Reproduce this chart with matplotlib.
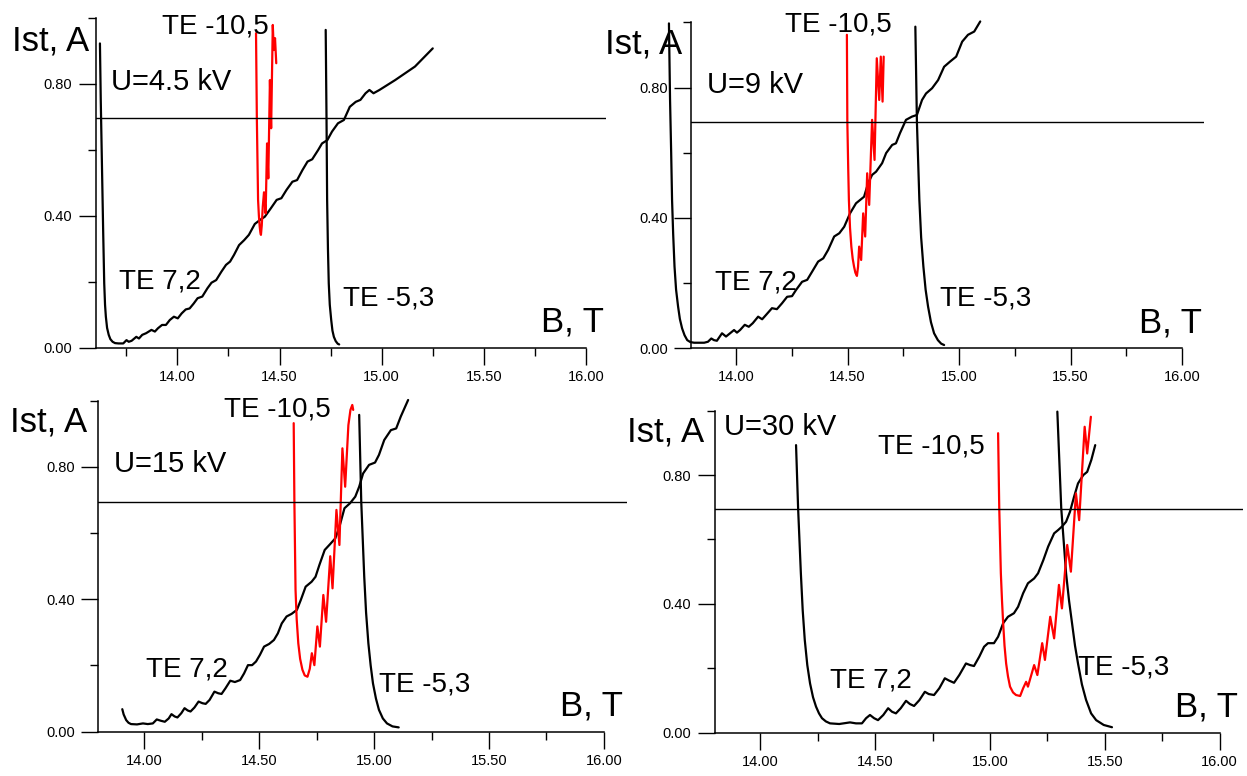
import matplotlib
matplotlib.use('Agg')
import matplotlib.pyplot as plt
from matplotlib.ticker import MultipleLocator, FormatStrFormatter

plt.rcParams['font.family'] = ['Liberation Sans', 'DejaVu Sans']

# ---- panel 1 : U=4.5 kV ----
p1_te72_b = [13.621, 13.625, 13.631, 13.637, 13.642, 13.646, 13.650, 13.656, 13.664, 13.672,
             13.683, 13.695, 13.712, 13.735,
             13.751, 13.762, 13.776, 13.799, 13.812, 13.828, 13.847, 13.873, 13.890, 13.905,
             13.925, 13.944, 13.963, 13.983, 14.002, 14.021, 14.041, 14.060, 14.080, 14.099,
             14.122, 14.147, 14.167, 14.190, 14.215, 14.238, 14.258, 14.277, 14.302, 14.327,
             14.350, 14.379, 14.404, 14.428, 14.457, 14.486, 14.509, 14.534, 14.563, 14.586,
             14.612, 14.637, 14.660, 14.689, 14.708, 14.734, 14.757, 14.786, 14.815, 14.844,
             14.873, 14.896, 14.921, 14.940, 14.960, 14.989, 15.066, 15.163, 15.250]
p1_te72_i = [0.922, 0.751, 0.549, 0.347, 0.195, 0.130, 0.094, 0.060, 0.039, 0.026,
             0.018, 0.014, 0.013, 0.013,
             0.023, 0.018, 0.021, 0.033, 0.028, 0.039, 0.044, 0.054, 0.049, 0.059,
             0.069, 0.069, 0.084, 0.094, 0.089, 0.104, 0.116, 0.119, 0.134, 0.150,
             0.155, 0.180, 0.197, 0.205, 0.230, 0.251, 0.261, 0.281, 0.311, 0.326,
             0.342, 0.375, 0.387, 0.397, 0.422, 0.448, 0.453, 0.478, 0.503, 0.508,
             0.538, 0.564, 0.571, 0.599, 0.619, 0.629, 0.655, 0.680, 0.690, 0.730,
             0.745, 0.751, 0.771, 0.781, 0.771, 0.781, 0.811, 0.852, 0.907]
p1_te105_b = [14.385, 14.389, 14.395, 14.399, 14.403, 14.406, 14.409, 14.413, 14.418, 14.424,
              14.432, 14.439, 14.445, 14.453, 14.459, 14.467, 14.472, 14.478, 14.484]
p1_te105_i = [0.953, 0.695, 0.448, 0.400, 0.367, 0.350, 0.342, 0.370, 0.427, 0.471,
              0.407, 0.619, 0.513, 0.811, 0.665, 0.978, 0.902, 0.938, 0.862]
p1_te53_b = [14.726, 14.730, 14.733, 14.737, 14.741, 14.746, 14.753, 14.759, 14.766, 14.775,
             14.785, 14.792]
p1_te53_i = [0.963, 0.695, 0.448, 0.300, 0.195, 0.130, 0.084, 0.052, 0.033, 0.020,
             0.012, 0.010]

# ---- panel 2 : U=9 kV ----
p2_te72_b = [13.699, 13.704, 13.709, 13.713, 13.718, 13.724, 13.731, 13.740, 13.748, 13.758,
             13.769, 13.781, 13.795, 13.812, 13.857, 13.874,
             13.889, 13.901, 13.914, 13.937, 13.955, 13.973, 13.991, 14.004, 14.018, 14.039,
             14.057, 14.075, 14.099, 14.117, 14.134, 14.161, 14.183, 14.206, 14.229, 14.251,
             14.269, 14.296, 14.319, 14.341, 14.368, 14.391, 14.413, 14.440, 14.463, 14.485,
             14.511, 14.538, 14.556, 14.574, 14.592, 14.610, 14.628, 14.655, 14.673, 14.700,
             14.717, 14.735, 14.762, 14.789, 14.811, 14.834, 14.852, 14.879, 14.906, 14.933,
             14.960, 14.987, 15.014, 15.040, 15.068, 15.095]
p2_te72_i = [0.997, 0.762, 0.600, 0.455, 0.350, 0.251, 0.180, 0.128, 0.090, 0.061,
             0.040, 0.025, 0.019, 0.017, 0.017, 0.020,
             0.030, 0.025, 0.023, 0.046, 0.036, 0.046, 0.056, 0.048, 0.056, 0.072,
             0.066, 0.077, 0.097, 0.089, 0.102, 0.123, 0.120, 0.138, 0.158, 0.160,
             0.179, 0.204, 0.210, 0.235, 0.266, 0.276, 0.302, 0.343, 0.353, 0.373,
             0.414, 0.445, 0.455, 0.465, 0.506, 0.532, 0.542, 0.568, 0.599, 0.624,
             0.629, 0.660, 0.701, 0.711, 0.716, 0.762, 0.782, 0.798, 0.823, 0.864,
             0.880, 0.895, 0.941, 0.962, 0.972, 1.003]
p2_te105_b = [14.497, 14.499, 14.503, 14.506, 14.511, 14.517, 14.523, 14.529, 14.535, 14.542,
              14.547, 14.552, 14.561, 14.570, 14.579,
              14.588, 14.597, 14.610, 14.621, 14.631, 14.642, 14.649, 14.657, 14.662]
p2_te105_i = [0.962, 0.695, 0.550, 0.455, 0.370, 0.312, 0.275, 0.251, 0.232, 0.222,
              0.250, 0.312, 0.271, 0.414, 0.343,
              0.537, 0.440, 0.701, 0.578, 0.890, 0.762, 0.895, 0.757, 0.895]
p2_te53_b = [14.804, 14.811, 14.822, 14.830, 14.840, 14.850, 14.861, 14.874, 14.888, 14.905,
             14.920, 14.933]
p2_te53_i = [0.987, 0.695, 0.455, 0.340, 0.251, 0.180, 0.128, 0.080, 0.046, 0.025,
             0.014, 0.010]

# ---- panel 3 : U=15 kV ----
p3_te72_b = [13.904, 13.910, 13.921, 13.931, 13.942, 13.968, 13.994, 14.015, 14.037, 14.054,
             14.072, 14.089,
             14.106, 14.118, 14.132, 14.144, 14.161, 14.175, 14.189, 14.201, 14.218, 14.236,
             14.253, 14.267, 14.284, 14.305, 14.322, 14.336, 14.353, 14.374, 14.394, 14.417,
             14.434, 14.451, 14.469, 14.486, 14.503, 14.521, 14.543, 14.564, 14.581, 14.598,
             14.619, 14.641, 14.664, 14.681, 14.702, 14.728, 14.745, 14.762, 14.785, 14.809,
             14.831, 14.849, 14.871, 14.895, 14.918, 14.935, 14.952, 14.978, 15.004, 15.021,
             15.044, 15.073, 15.096, 15.116, 15.148]
p3_te72_i = [0.068, 0.052, 0.035, 0.027, 0.023, 0.022, 0.025, 0.023, 0.025, 0.037,
             0.033, 0.030,
             0.040, 0.053, 0.046, 0.043, 0.056, 0.071, 0.064, 0.061, 0.073, 0.091,
             0.086, 0.084, 0.096, 0.121, 0.116, 0.114, 0.131, 0.154, 0.150, 0.156,
             0.176, 0.201, 0.201, 0.212, 0.232, 0.257, 0.265, 0.277, 0.297, 0.327,
             0.348, 0.356, 0.368, 0.398, 0.438, 0.453, 0.468, 0.504, 0.549, 0.567,
             0.584, 0.619, 0.675, 0.690, 0.710, 0.740, 0.780, 0.806, 0.813, 0.836,
             0.881, 0.911, 0.916, 0.952, 1.002]
p3_te105_b = [14.650, 14.653, 14.658, 14.663, 14.670, 14.678, 14.688, 14.698, 14.710, 14.720,
              14.729, 14.740, 14.753, 14.764,
              14.779, 14.791, 14.809, 14.819, 14.836, 14.849, 14.862, 14.874, 14.888, 14.897,
              14.905, 14.909]
p3_te105_i = [0.932, 0.695, 0.429, 0.340, 0.267, 0.220, 0.187, 0.170, 0.166, 0.190,
              0.237, 0.201, 0.318, 0.257,
              0.413, 0.332, 0.530, 0.433, 0.670, 0.564, 0.856, 0.740, 0.926, 0.972,
              0.987, 0.972]
p3_te53_b = [14.935, 14.944, 14.957, 14.965, 14.975, 14.985, 14.995, 15.008, 15.021, 15.038,
             15.056, 15.080, 15.107]
p3_te53_i = [0.957, 0.695, 0.468, 0.360, 0.267, 0.200, 0.146, 0.100, 0.066, 0.040,
             0.025, 0.016, 0.013]

# ---- panel 4 : U=30 kV ----
p4_te72_b = [14.155, 14.164, 14.176, 14.184, 14.193, 14.204, 14.216, 14.229, 14.242, 14.255,
             14.268, 14.285, 14.303, 14.343, 14.390,
             14.416, 14.442, 14.460, 14.477, 14.495, 14.512, 14.535, 14.556, 14.573, 14.590,
             14.611, 14.634, 14.651, 14.669, 14.692, 14.716, 14.733, 14.756, 14.779, 14.803,
             14.821, 14.843, 14.866, 14.895, 14.913, 14.930, 14.953, 14.974, 14.991, 15.017,
             15.035, 15.057, 15.078, 15.104, 15.122, 15.144, 15.165, 15.192, 15.209, 15.232,
             15.253, 15.279, 15.296, 15.313, 15.331, 15.348, 15.366, 15.383, 15.406, 15.423,
             15.441, 15.458]
p4_te72_i = [0.893, 0.697, 0.495, 0.380, 0.288, 0.210, 0.153, 0.110, 0.081, 0.060,
             0.045, 0.035, 0.029, 0.027, 0.032,
             0.029, 0.029, 0.045, 0.055, 0.045, 0.039, 0.055, 0.076, 0.065, 0.060,
             0.076, 0.099, 0.089, 0.083, 0.101, 0.127, 0.120, 0.117, 0.138, 0.169,
             0.162, 0.155, 0.179, 0.215, 0.210, 0.207, 0.236, 0.267, 0.278, 0.278,
             0.298, 0.340, 0.360, 0.371, 0.391, 0.433, 0.464, 0.479, 0.495, 0.536,
             0.578, 0.619, 0.629, 0.640, 0.655, 0.686, 0.733, 0.774, 0.800, 0.810,
             0.847, 0.893]
p4_te105_b = [15.035, 15.040, 15.047, 15.052, 15.057, 15.063, 15.070, 15.078, 15.087, 15.100,
              15.113, 15.131, 15.144, 15.157,
              15.165, 15.192, 15.206, 15.227, 15.239, 15.262, 15.279, 15.300, 15.313, 15.336,
              15.352, 15.374, 15.388, 15.412, 15.423, 15.439]
p4_te105_i = [0.930, 0.697, 0.495, 0.410, 0.340, 0.270, 0.215, 0.175, 0.143, 0.125,
              0.117, 0.114, 0.138, 0.158,
              0.143, 0.210, 0.179, 0.278, 0.226, 0.360, 0.293, 0.459, 0.386, 0.583,
              0.500, 0.743, 0.660, 0.950, 0.867, 0.981]
p4_te53_b = [15.293, 15.310, 15.331, 15.344, 15.357, 15.370, 15.383, 15.400, 15.418, 15.440,
             15.462, 15.495, 15.531]
p4_te53_i = [0.997, 0.697, 0.495, 0.410, 0.340, 0.270, 0.215, 0.150, 0.102, 0.060,
             0.039, 0.024, 0.017]

level = 0.695
x_left = [13.6, 13.8, 13.8, 13.8]
voltages = ['U=4.5 kV', 'U=9 kV', 'U=15 kV', 'U=30 kV']

# axes boxes in figure fraction [left, bottom, width, height]
boxes = [[0.0767, 0.5519, 0.4096, 0.4253],
         [0.5545, 0.5512, 0.4113, 0.4199],
         [0.0789, 0.0571, 0.4238, 0.4266],
         [0.5730, 0.0558, 0.4235, 0.4150]]

# text anchors (left, baseline) in data units: ylabel, TE-10,5, U, TE7,2, TE-5,3, B,T
text_pos = [
    [(13.19, 0.902), (13.925, 0.953), (13.673, 0.781), (13.712, 0.180), (14.81, 0.129), (15.782, 0.048)],
    [(13.413, 0.905), (14.221, 0.972), (13.871, 0.783), (13.907, 0.181), (14.915, 0.130), (15.808, 0.048)],
    [(13.415, 0.906), (14.348, 0.952), (13.869, 0.785), (14.007, 0.166), (15.021, 0.121), (15.81, 0.050)],
    [(13.42, 0.904), (14.512, 0.868), (13.841, 0.925), (14.303, 0.140), (15.383, 0.182), (15.806, 0.050)],
]

curves = [
    (p1_te72_b, p1_te72_i, p1_te105_b, p1_te105_i, p1_te53_b, p1_te53_i),
    (p2_te72_b, p2_te72_i, p2_te105_b, p2_te105_i, p2_te53_b, p2_te53_i),
    (p3_te72_b, p3_te72_i, p3_te105_b, p3_te105_i, p3_te53_b, p3_te53_i),
    (p4_te72_b, p4_te72_i, p4_te105_b, p4_te105_i, p4_te53_b, p4_te53_i),
]

fig = plt.figure(figsize=(12.47, 7.76), dpi=100)

line_kw = dict(lw=1.6, clip_on=False, solid_joinstyle='round', solid_capstyle='round')

for k in range(4):
    ax = fig.add_axes(boxes[k])
    b72, i72, b105, i105, b53, i53 = curves[k]
    ax.plot(b72, i72, color='black', **line_kw)
    ax.plot(b53, i53, color='black', **line_kw)
    ax.plot(b105, i105, color='#ff0000', **line_kw)
    ax.axhline(level, color='black', lw=1.0)

    ax.set_xlim(x_left[k], 16.1)
    ax.set_ylim(0, 1.0)
    for s in ['top', 'right']:
        ax.spines[s].set_visible(False)
    ax.spines['bottom'].set_bounds(x_left[k], 16.0)
    ax.spines['left'].set_linewidth(1.1)
    ax.spines['bottom'].set_linewidth(1.1)

    ax.xaxis.set_major_formatter(FormatStrFormatter('%.2f'))
    ax.yaxis.set_major_formatter(FormatStrFormatter('%.2f'))
    ax.set_xticks([14.0, 14.5, 15.0, 15.5, 16.0])
    ax.set_xticks([t for t in [13.75, 14.25, 14.75, 15.25, 15.75] if t > x_left[k]], minor=True)
    ax.set_yticks([0.0, 0.4, 0.8])
    ax.set_yticks([0.2, 0.6, 1.0], minor=True)
    ax.tick_params(which='major', direction='out', length=12, width=1.0, labelsize=10.5)
    ax.tick_params(which='minor', direction='out', length=6, width=1.0)
    ax.tick_params(axis='x', which='major', pad=4)
    ax.tick_params(axis='y', which='major', pad=5)

    tp = text_pos[k]
    ax.text(tp[0][0], tp[0][1], 'Ist, A', fontsize=25, ha='left', va='baseline', clip_on=False)
    ax.text(tp[1][0], tp[1][1], 'TE -10,5', fontsize=20, ha='left', va='baseline')
    ax.text(tp[2][0], tp[2][1], voltages[k], fontsize=21, ha='left', va='baseline')
    ax.text(tp[3][0], tp[3][1], 'TE 7,2', fontsize=20, ha='left', va='baseline')
    ax.text(tp[4][0], tp[4][1], 'TE -5,3', fontsize=20, ha='left', va='baseline')
    ax.text(tp[5][0], tp[5][1], 'B, T', fontsize=25, ha='left', va='baseline')

fig.savefig('out.png', dpi=100)
